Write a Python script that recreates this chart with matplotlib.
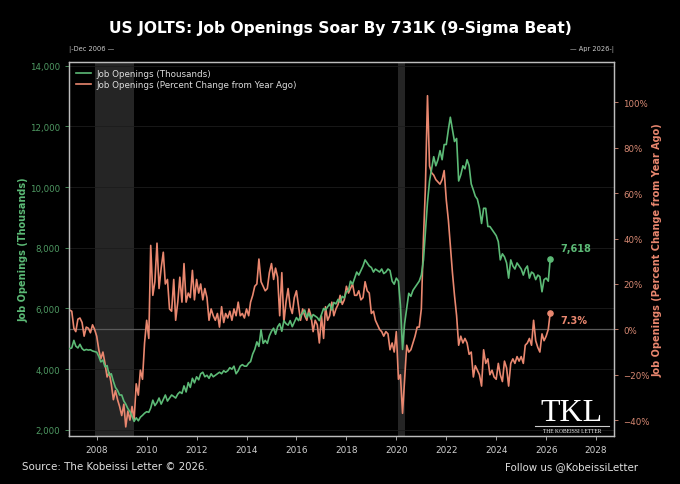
#!/usr/bin/env python3
"""US JOLTS job openings vs. year-over-year change, dark Kobeissi-style chart."""
import pandas as pd
import matplotlib
matplotlib.use("Agg")
import matplotlib.pyplot as plt
import matplotlib.dates as mdates
from matplotlib.ticker import FuncFormatter

GREEN = "#5cba76"
GREEN_TICK = "#4f9a63"
SALMON = "#e9876f"
SALMON_TICK = "#d98a74"

# monthly, Dec 2006 .. Mar 2026
months = pd.date_range("2006-12-01", "2026-03-01", freq="MS")

openings = (
    [4680]
    + [4700, 4950, 4760, 4700, 4820, 4680, 4620, 4650, 4630, 4640, 4600, 4580]  # 2007
    + [4560, 4420, 4240, 4300, 4080, 4120, 3800, 3850, 3600, 3400, 3300, 3150]  # 2008
    + [3150, 2950, 2850, 2700, 2600, 2450, 2280, 2400, 2300, 2420, 2480, 2550]  # 2009
    + [2600, 2580, 2720, 2980, 2800, 2900, 3050, 2850, 3000, 3150, 2950, 3050]  # 2010
    + [3150, 3100, 3050, 3180, 3250, 3200, 3450, 3250, 3560, 3400, 3700, 3550]  # 2011
    + [3750, 3650, 3850, 3900, 3750, 3800, 3700, 3850, 3750, 3800, 3850, 3900]  # 2012
    + [3850, 3950, 3900, 3950, 4050, 4000, 4100, 3850, 3950, 4100, 4150, 4100]  # 2013
    + [4100, 4200, 4250, 4500, 4650, 4900, 4750, 5300, 4850, 4950, 4850, 5100]  # 2014
    + [5250, 5350, 5150, 5400, 5500, 5250, 5600, 5500, 5450, 5600, 5400, 5550]  # 2015
    + [5700, 5600, 5750, 5850, 5950, 5700, 5850, 5650, 5800, 5750, 5700, 5600]  # 2016
    + [5800, 6000, 5950, 6050, 6150, 5950, 6200, 6150, 6300, 6200, 6400, 6350]  # 2017
    + [6550, 6600, 6900, 6800, 7000, 7200, 7100, 7250, 7400, 7600, 7500, 7400]  # 2018
    + [7350, 7200, 7300, 7250, 7200, 7300, 7150, 7200, 7300, 7250, 6900, 6800]  # 2019
    + [7000, 6900, 6100, 4650, 5500, 6000, 6500, 6400, 6600, 6700, 6800, 6900]  # 2020
    + [7100, 7600, 8500, 9500, 10200, 10600, 11000, 10700, 10900, 11200, 10900, 11400]  # 2021
    + [11400, 11900, 12300, 11900, 11500, 11600, 10200, 10400, 10700, 10600, 10900, 10700]  # 2022
    + [10100, 9900, 9700, 9600, 9300, 8800, 9300, 9300, 8700, 8700, 8600, 8500]  # 2023
    + [8400, 8200, 7600, 7800, 7700, 7500, 7000, 7600, 7400, 7300, 7500, 7400]  # 2024
    + [7300, 7100, 7300, 7400, 7000, 7200, 7150, 6950, 7100, 7050, 6550, 6950]  # 2025
    + [7000, 6900, 7618]  # 2026
)

yoy_pct = (
    [8.5]
    + [8.0, 0.5, -1.0, 4.5, 5.0, 3.0, -3.0, 1.0, 0.5, -1.5, 2.0, 0.0]  # 2007
    + [-3.0, -9.0, -13.0, -10.0, -15.0, -21.0, -19.0, -24.0, -31.0, -27.0, -31.0, -34.0]  # 2008
    + [-38.0, -33.0, -43.0, -36.0, -40.0, -34.0, -40.0, -24.0, -29.0, -18.0, -22.0, -6.0]  # 2009
    + [4.0, -4.0, 37.0, 15.0, 21.0, 38.0, 18.0, 27.0, 34.0, 20.0, 22.0, 9.0]  # 2010
    + [8.0, 22.0, 4.0, 12.0, 23.0, 12.0, 29.0, 12.0, 16.0, 14.0, 26.0, 13.0]  # 2011
    + [22.0, 16.0, 20.0, 13.0, 18.0, 14.0, 4.0, 9.0, 6.0, 4.0, 7.0, 1.0]  # 2012
    + [10.0, 3.0, 7.0, 5.0, 8.0, 4.0, 9.0, 6.0, 12.0, 6.0, 7.0, 5.0]  # 2013
    + [9.0, 6.0, 12.0, 15.0, 19.0, 20.0, 31.0, 21.0, 19.0, 17.0, 18.0, 25.0]  # 2014
    + [29.0, 22.0, 27.0, 23.0, 6.0, 25.0, 3.0, 12.0, 18.0, 10.0, 7.0, 14.0]  # 2015
    + [17.0, 10.0, 4.0, 9.0, 6.0, 4.0, 9.0, 6.0, -1.0, 4.0, 2.0, -6.0]  # 2016
    + [6.0, -4.0, 10.0, 4.0, 6.0, 12.0, 6.0, 9.0, 11.0, 15.0, 11.0, 13.0]  # 2017
    + [19.0, 16.0, 18.0, 20.0, 15.0, 15.0, 17.0, 13.0, 14.0, 21.0, 17.0, 16.0]  # 2018
    + [7.0, 8.0, 4.0, 2.0, 0.0, -1.0, -3.0, -1.0, -2.0, -9.0, -6.0, -10.0]  # 2019
    + [-1.0, -22.0, -20.0, -37.0, -22.0, -7.0, -10.0, -9.0, -6.0, -3.0, 1.0, 1.0]  # 2020
    + [9.0, 40.0, 62.0, 103.0, 72.0, 69.0, 68.0, 66.0, 65.0, 64.0, 66.0, 70.0]  # 2021
    + [57.0, 48.0, 37.0, 25.0, 15.0, 6.0, -7.0, -3.0, -6.0, -4.0, -6.0, -11.0]  # 2022
    + [-10.0, -21.0, -16.0, -18.0, -20.0, -25.0, -9.0, -15.0, -13.0, -20.0, -18.0, -21.0]  # 2023
    + [-22.0, -15.0, -20.0, -23.0, -14.0, -17.0, -25.0, -15.0, -13.0, -15.0, -12.0, -14.0]  # 2024
    + [-12.0, -15.0, -7.0, -6.0, -4.0, -7.0, 4.0, -5.0, -8.0, -10.0, -2.0, -5.0]  # 2025
    + [-3.0, 0.0, 7.3]  # 2026
)

recessions = [("2007-12-01", "2009-06-30"), ("2020-02-01", "2020-04-30")]
left_ticks = [2000, 4000, 6000, 8000, 10000, 12000, 14000]
right_ticks = [-40, -20, 0, 20, 40, 60, 80, 100]
year_ticks = list(range(2008, 2029, 2))


def main():
    fig = plt.figure(figsize=(6.8, 4.85), dpi=100, facecolor="black")
    ax = fig.add_axes([0.1015, 0.099, 0.8015, 0.7718])
    ax.set_facecolor("black")
    ax2 = ax.twinx()
    # green axes on top, transparent; shading and grid live on the lower one
    ax.set_zorder(ax2.get_zorder() + 1)
    ax.patch.set_visible(False)
    ax2.set_facecolor("black")
    ax2.patch.set_visible(True)

    ax.set_ylim(1800, 14130)
    ax2.set_ylim(-47, 118)
    ax.set_xlim(pd.Timestamp("2006-11-22"), pd.Timestamp("2028-09-20"))

    for start, end in recessions:
        ax2.axvspan(pd.Timestamp(start), pd.Timestamp(end), color="#252525", zorder=0, lw=0)

    ax.set_yticks(left_ticks)
    ax.yaxis.set_major_formatter(FuncFormatter(lambda v, _: f"{int(v):,}"))
    ax2.set_yticks(right_ticks)
    ax2.yaxis.set_major_formatter(FuncFormatter(lambda v, _: f"{int(v)}%".replace("-", "\u2212")))
    ax.set_xticks([pd.Timestamp(f"{y}-01-01") for y in year_ticks])
    ax.xaxis.set_major_formatter(mdates.DateFormatter("%Y"))

    # left-axis grid mapped into ax2 space so it sits under both lines
    lo, hi = ax.get_ylim()
    lo2, hi2 = ax2.get_ylim()
    for y in left_ticks:
        y2 = lo2 + (y - lo) / (hi - lo) * (hi2 - lo2)
        ax2.axhline(y2, color="#1c1c1c", lw=0.6, zorder=0.5)
    ax2.axhline(0, color="#5a5a5a", lw=0.9, zorder=1)

    l1, = ax.plot(months, openings, color=GREEN, lw=1.2, zorder=3,
                  label="Job Openings (Thousands)")
    l2, = ax2.plot(months, yoy_pct, color=SALMON, lw=1.2, zorder=3,
                   label="Job Openings (Percent Change from Year Ago)")

    ax.scatter([months[-1]], [openings[-1]], color=GREEN, s=14, zorder=4)
    ax2.scatter([months[-1]], [yoy_pct[-1]], color=SALMON, s=14, zorder=4)
    ax.annotate(f"{openings[-1]:,}", (months[-1], openings[-1]), xytext=(7, 6),
                textcoords="offset points", color=GREEN, fontsize=7, fontweight="bold")
    ax2.annotate(f"{yoy_pct[-1]:.1f}%", (months[-1], yoy_pct[-1]), xytext=(7, -7),
                 textcoords="offset points", color=SALMON, fontsize=7, fontweight="bold")

    for a in (ax, ax2):
        for s in a.spines.values():
            s.set_color("#bdbdbd")
            s.set_linewidth(0.9)
    ax.tick_params(axis="y", colors=GREEN_TICK, labelcolor=GREEN_TICK, labelsize=6.2,
                   length=3, width=0.6)
    ax.tick_params(axis="x", colors="#bdbdbd", labelcolor="#d0d0d0", labelsize=6.4,
                   length=3, width=0.6)
    ax2.tick_params(axis="y", colors=SALMON_TICK, labelcolor=SALMON_TICK, labelsize=6.2,
                    length=3, width=0.6)

    ax.set_ylabel("Job Openings (Thousands)", color=GREEN, fontsize=7, fontweight="bold", labelpad=1)
    ax2.set_ylabel("Job Openings (Percent Change from Year Ago)", color=SALMON,
                   fontsize=7, fontweight="bold", labelpad=2)

    leg = ax.legend([l1, l2], [l1.get_label(), l2.get_label()], loc="upper left",
                    frameon=False, fontsize=6.3, handlelength=1.7, handletextpad=0.6,
                    borderaxespad=0.4, labelspacing=0.3, bbox_to_anchor=(0.0, 1.0))
    for t in leg.get_texts():
        t.set_color("#dddddd")

    fig.text(0.5, 0.942, "US JOLTS: Job Openings Soar By 731K (9-Sigma Beat)",
             ha="center", va="center", color="white", fontsize=11.2, fontweight="bold")
    fig.text(0.1015, 0.897, "|-Dec 2006 \u2014", ha="left", va="center", color="#cccccc", fontsize=4.8)
    fig.text(0.903, 0.897, "\u2014 Apr 2026-|", ha="right", va="center", color="#cccccc", fontsize=4.8)

    fig.text(0.032, 0.037, "Source: The Kobeissi Letter \u00a9 2026.", ha="left", va="center",
             color="#e0e0e0", fontsize=7.4)
    fig.text(0.938, 0.037, "Follow us @KobeissiLetter", ha="right", va="center",
             color="#e0e0e0", fontsize=7.4)

    # TKL logo
    fig.text(0.841, 0.148, "TKL", ha="center", va="center", color="white",
             fontsize=23, family="Liberation Serif")
    fig.add_artist(plt.Line2D([0.787, 0.895], [0.119, 0.119], color="#cccccc", lw=0.8))
    fig.text(0.841, 0.110, "THE KOBEISSI LETTER", ha="center", va="center", color="white",
             fontsize=4.0, family="Liberation Serif")

    fig.savefig("out.png", dpi=100, facecolor="black")


if __name__ == "__main__":
    main()
